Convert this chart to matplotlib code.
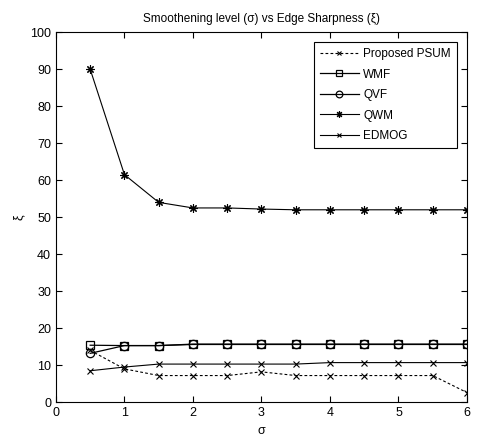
import matplotlib
matplotlib.use("Agg")
import matplotlib.pyplot as plt

plt.rcParams['font.family'] = ['Liberation Sans', 'DejaVu Sans']

sigma = [0.5, 1, 1.5, 2, 2.5, 3, 3.5, 4, 4.5, 5, 5.5, 6]
psum = [14.0, 9.0, 7.2, 7.2, 7.2, 8.2, 7.2, 7.2, 7.2, 7.2, 7.2, 2.6]
wmf = [15.4, 15.3, 15.3, 15.7, 15.7, 15.7, 15.7, 15.7, 15.7, 15.7, 15.7, 15.7]
qvf = [13.2, 15.3, 15.3, 15.6, 15.6, 15.6, 15.6, 15.6, 15.6, 15.6, 15.6, 15.6]
qwm = [90.0, 61.5, 54.0, 52.5, 52.5, 52.2, 52.0, 52.0, 52.0, 52.0, 52.0, 52.0]
edmog = [8.5, 9.5, 10.3, 10.3, 10.3, 10.3, 10.3, 10.7, 10.7, 10.7, 10.7, 10.7]

fig = plt.figure(figsize=(4.78, 4.41), dpi=100)
ax = fig.add_axes([0.117, 0.088, 0.860, 0.839])

ax.plot(sigma, psum, 'k--', marker='x', lw=0.8, ms=4, mew=0.8, dashes=(2.5, 2), label='Proposed PSUM')
ax.plot(sigma, wmf, 'k-s', lw=0.9, ms=6, mfc='none', mew=0.9, label='WMF')
ax.plot(sigma, qvf, 'k-o', lw=0.9, ms=6, mfc='none', mew=0.9, label='QVF')
ax.plot(sigma, qwm, 'k-', marker=(8, 2, 0), lw=0.8, ms=6, mew=0.8, label='QWM')
ax.plot(sigma, edmog, 'k-x', lw=0.8, ms=4, mew=0.8, label='EDMOG')

ax.set_xlim(0, 6)
ax.set_ylim(0, 100)
ax.set_xticks(range(0, 7))
ax.set_yticks(range(0, 101, 10))
ax.tick_params(direction='in', top=True, right=True, labelsize=9, length=4)
ax.set_title('Smoothening level (σ) vs Edge Sharpness (ξ)', fontsize=8.5, pad=7)
ax.set_xlabel('σ', fontsize=9)
ax.set_ylabel('ξ', fontsize=9)

leg = ax.legend(loc='upper right', fontsize=8.5, fancybox=False, edgecolor='black',
                framealpha=1, handlelength=3.3, handletextpad=0.4, markerscale=0.8,
                borderaxespad=0.85, labelspacing=0.72, borderpad=0.5)
leg.get_frame().set_linewidth(0.8)

fig.savefig('out.png', dpi=100)
